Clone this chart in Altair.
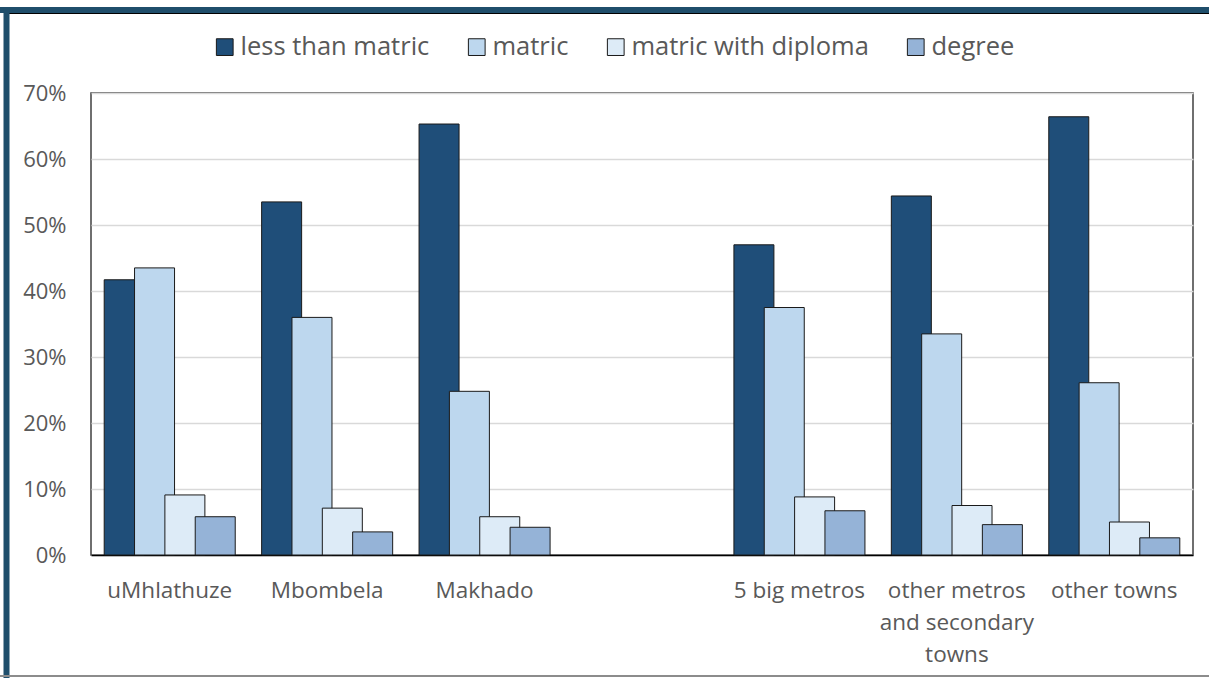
import altair as alt
import pandas as pd

categories = ["uMhlathuze", "Mbombela", "Makhado", " ", "5 big metros",
              "other metros and secondary towns", "other towns"]
series = ["less than matric", "matric", "matric with diploma", "degree"]
colors = ["#1F4E79", "#BDD7EE", "#DDEBF7", "#95B3D7"]

places = ["uMhlathuze", "Mbombela", "Makhado", "5 big metros",
          "other metros and secondary towns", "other towns"]
less_than_matric = [41.7, 53.5, 65.3, 47.0, 54.4, 66.4]
matric = [43.5, 36.0, 24.8, 37.5, 33.5, 26.1]
matric_with_diploma = [9.1, 7.1, 5.8, 8.8, 7.5, 5.0]
degree = [5.8, 3.5, 4.2, 6.7, 4.6, 2.6]

rows = []
for s, vals in zip(series, [less_than_matric, matric, matric_with_diploma, degree]):
    for p, v in zip(places, vals):
        rows.append({"place": p, "level": s, "value": v / 100})
df = pd.DataFrame(rows)

FONT = "Open Sans"

bars = alt.Chart(df).mark_bar(stroke="#1a1a1a", strokeWidth=1, width=40).encode(
    x=alt.X("place:N", sort=categories,
            scale=alt.Scale(domain=categories, paddingInner=0.229, paddingOuter=0.1145),
            axis=alt.Axis(title=None, labelAngle=0, domain=True, domainColor="#000000",
                          domainWidth=1.5, ticks=False, labelPadding=24,
                          labelFontSize=22.5, labelColor="#595959", labelFont=FONT,
                          labelLineHeight=32, labelLimit=250,
                          labelExpr="datum.value == 'other metros and secondary towns' ? ['other metros','and secondary','towns'] : datum.value")),
    xOffset=alt.XOffset("level:N", sort=series, scale=alt.Scale(domain=series, paddingInner=0, paddingOuter=0)),
    y=alt.Y("value:Q", scale=alt.Scale(domain=[0, 0.7]),
            axis=alt.Axis(title=None, format=".0%", values=[0, 0.1, 0.2, 0.3, 0.4, 0.5, 0.6, 0.7],
                          grid=True, gridColor="#D9D9D9", gridWidth=1.5, domain=False, ticks=False,
                          labelFontSize=22, labelColor="#595959", labelFont=FONT, labelPadding=25)),
    color=alt.Color("level:N", sort=series, scale=alt.Scale(domain=series, range=colors),
                    legend=alt.Legend(title=None, orient="none", direction="horizontal",
                                      legendX=121, legendY=-59, symbolType="square",
                                      symbolSize=280, symbolStrokeColor="#1a1a1a",
                                      symbolStrokeWidth=1, labelFontSize=25.5, labelFont=FONT,
                                      labelColor="#595959", columnPadding=34, labelOffset=3,
                                      labelLimit=400)),
)

one = pd.DataFrame({"a": [0]})
top_rule = alt.Chart(one).mark_rule(color="#1F4E6B", strokeWidth=6).encode(
    x=alt.value(-91), x2=alt.value(1118), y=alt.value(-83))
top_thin = alt.Chart(one).mark_rule(color="#000000", strokeWidth=1).encode(
    x=alt.value(-82), x2=alt.value(1118), y=alt.value(-79.5))
left_rule = alt.Chart(one).mark_rule(color="#1F4E6B", strokeWidth=6).encode(
    x=alt.value(-84.5), y=alt.value(-86), y2=alt.value(585))
bottom_rule = alt.Chart(one).mark_rule(color="#8C8C8C", strokeWidth=2).encode(
    x=alt.value(-91), x2=alt.value(1118), y=alt.value(583))

chart = alt.layer(bars, top_rule, top_thin, left_rule, bottom_rule).properties(
    width=1102, height=462,
    autosize=alt.AutoSizeParams(type="none"),
    padding={"left": 91, "top": 93, "right": 16, "bottom": 123},
    background="#FFFFFF",
).configure_view(stroke="#404040", strokeWidth=1.5)

chart.save("out.html", embed_options={"renderer": "svg", "actions": False})
